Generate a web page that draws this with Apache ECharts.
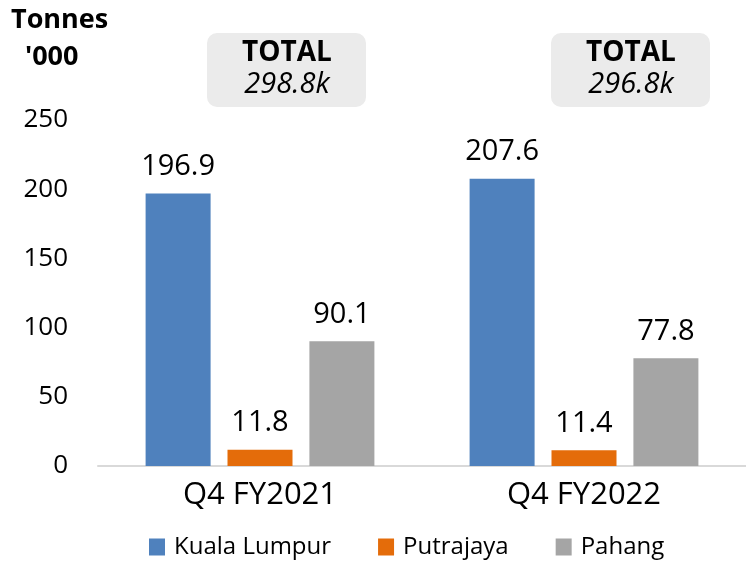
<!DOCTYPE html>
<html>
<head>
<meta charset="utf-8">
<script src="https://cdn.jsdelivr.net/npm/echarts@6/dist/echarts.min.js"></script>
<style>
  html, body { margin: 0; padding: 0; background: #ffffff; }
  #chart { width: 746px; height: 561px; }
</style>
</head>
<body>
<div id="chart"></div>
<script>
var categories = ['Q4 FY2021', 'Q4 FY2022'];
var kualaLumpur = [196.9, 207.6];
var putrajaya = [11.8, 11.4];
var pahang = [90.1, 77.8];
var totals = ['298.8k', '296.8k'];
var yTicks = [0, 50, 100, 150, 200, 250];

var font = '"Open Sans"';
var chart = echarts.init(document.getElementById('chart'));

// grey boxes with the totals
var boxes = [];
var boxX = [207, 551];
for (var i = 0; i < totals.length; i++) {
    boxes.push({
        type: 'rect',
        x: boxX[i], y: 33,
        shape: { x: 0, y: 0, width: 159, height: 74, r: 10 },
        style: { fill: '#ebebeb' }
    });
    boxes.push({
        type: 'text',
        x: boxX[i] + 80, y: 53,
        style: {
            text: 'TOTAL', align: 'center', verticalAlign: 'middle', fill: '#000',
            font: 'bold 28px ' + font
        }
    });
    boxes.push({
        type: 'text',
        x: boxX[i] + 80, y: 85,
        style: {
            text: totals[i], align: 'center', verticalAlign: 'middle', fill: '#000',
            font: 'italic 29px ' + font
        }
    });
}

function barSeries(name, data, color) {
    return {
        name: name,
        type: 'bar',
        data: data,
        barWidth: 65,
        barGap: '26%',
        itemStyle: { color: color },
        label: {
            show: true,
            position: 'top',
            distance: 12,
            color: '#000',
            fontFamily: font,
            fontSize: 29,
            formatter: function (p) { return p.value.toFixed(1); }
        }
    };
}

chart.setOption({
    animation: false,
    textStyle: { fontFamily: font },
    graphic: [
        { type: 'text', x: 11, y: 7, style: { text: 'Tonnes', fill: '#000', font: 'bold 27px ' + font } },
        { type: 'text', x: 25, y: 44, style: { text: "'000", fill: '#000', font: 'bold 27px ' + font } }
    ].concat(boxes),
    legend: {
        top: 535,
        left: 149,
        padding: 0,
        itemWidth: 16,
        itemHeight: 17,
        itemGap: 47,
        icon: 'rect',
        textStyle: { fontSize: 24, lineHeight: 24, color: '#000', fontFamily: font, padding: [0, 0, 0, 4] },
        data: ['Kuala Lumpur', 'Putrajaya', 'Pahang']
    },
    grid: {
        left: 98,
        top: 120,
        width: 652,
        bottom: 95
    },
    xAxis: {
        type: 'category',
        data: categories,
        axisTick: { show: false },
        axisLine: { lineStyle: { color: '#d9d9d9', width: 2 } },
        axisLabel: { color: '#000', fontSize: 31, margin: 14, fontFamily: font }
    },
    yAxis: {
        type: 'value',
        min: yTicks[0],
        max: yTicks[yTicks.length - 1],
        interval: 50,
        splitLine: { show: false },
        axisLine: { show: false },
        axisTick: { show: false },
        axisLabel: { color: '#000', fontSize: 26, margin: 30, fontFamily: font }
    },
    series: [
        barSeries('Kuala Lumpur', kualaLumpur, '#4f81bd'),
        barSeries('Putrajaya', putrajaya, '#e46c0a'),
        barSeries('Pahang', pahang, '#a5a5a5')
    ]
});
</script>
</body>
</html>
